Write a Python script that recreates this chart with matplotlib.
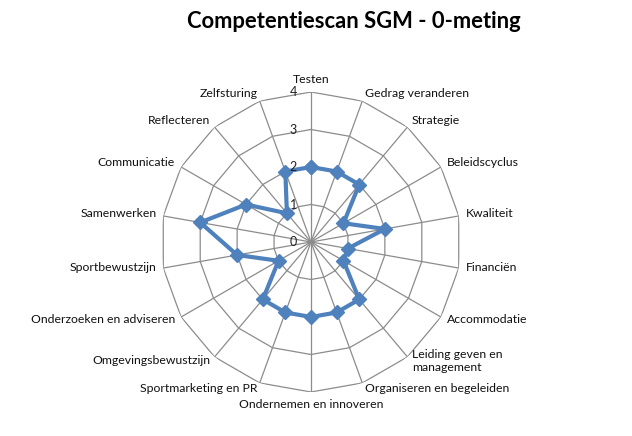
import numpy as np
import matplotlib
matplotlib.use("Agg")
import matplotlib.pyplot as plt

categories = ["Testen", "Gedrag veranderen", "Strategie", "Beleidscyclus", "Kwaliteit",
              "Financiën", "Accommodatie", "Leiding geven en\nmanagement",
              "Organiseren en begeleiden", "Ondernemen en innoveren",
              "Sportmarketing en PR", "Omgevingsbewustzijn", "Onderzoeken en adviseren",
              "Sportbewustzijn", "Samenwerken", "Communicatie", "Reflecteren", "Zelfsturing"]
values = [2, 2, 2, 1, 2, 1, 1, 2, 2, 2, 2, 2, 1, 2, 3, 2, 1, 2]
rticks = [0, 1, 2, 3, 4]
title = "Competentiescan SGM - 0-meting"

plt.rcParams['font.family'] = ['Lato', 'DejaVu Sans']

W, H = 632, 436
fig = plt.figure(figsize=(W / 100, H / 100), dpi=100)
cx, cy, R = 311, 242, 150
ax = fig.add_axes([(cx - R) / W, (H - cy - R) / H, 2 * R / W, 2 * R / H], polar=True)
ax.set_theta_zero_location('N')
ax.set_theta_direction(-1)
ax.set_ylim(0, 4)
ax.grid(False)
ax.spines['polar'].set_visible(False)
ax.set_xticks([])
ax.set_yticks([])
ax.patch.set_alpha(0)

n = len(categories)
theta = np.arange(n) * 2 * np.pi / n
gc = '#8c8c8c'
for r in rticks[1:]:
    ax.plot(np.append(theta, theta[0]), [r] * (n + 1), color=gc, lw=0.9, zorder=1)
for t in theta:
    ax.plot([t, t], [0, rticks[-1]], color=gc, lw=0.9, zorder=1)

ax.plot(np.append(theta, theta[0]), values + values[:1], color='#4F81BD', lw=3.0,
        marker='D', markersize=7, zorder=3, clip_on=False)

for r in rticks:
    ax.annotate(str(r), xy=(0, r), xytext=(-10, 0), textcoords='offset points',
                ha='right', va='center', fontsize=9, color='#222222')

for t, lab in zip(theta, categories):
    s, c = np.sin(t), np.cos(t)
    if abs(s) < 0.01:
        ha = 'center'
        va = 'bottom' if c > 0 else 'top'
    else:
        ha = 'left' if s > 0 else 'right'
        va = 'center'
    dx, dy = s * 5, c * 5
    if ha != 'center':
        dy += 1
    ax.annotate(lab, xy=(t, 4), xytext=(dx, dy), textcoords='offset points',
                ha=ha, va=va, fontsize=8.8, color='#111111', annotation_clip=False)

fig.text(354 / W, 1 - 21 / H, title, ha='center', va='center', fontsize=15.8,
         fontweight='bold', color='black')

fig.savefig('out.png', dpi=100)
